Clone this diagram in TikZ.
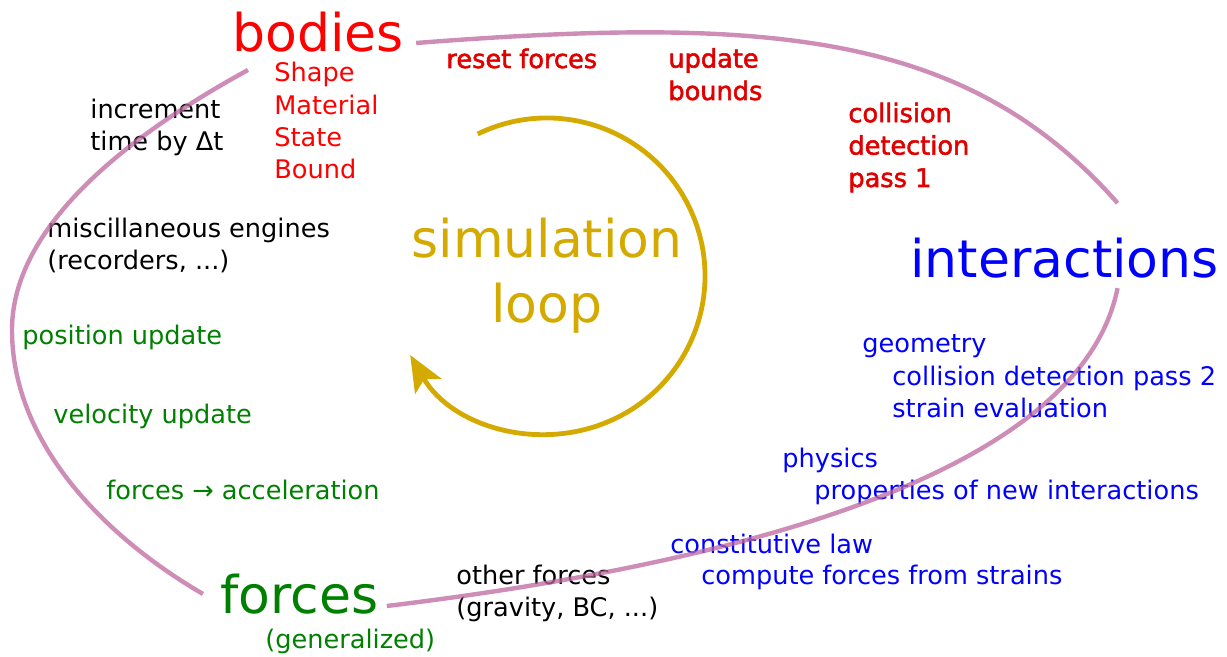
\documentclass[tikz,border=0pt]{standalone}
\usepackage{fontspec}
\setmainfont{DejaVu Sans}
\newfontfamily\heavyfont[FakeBold=2]{DejaVu Sans}
\usetikzlibrary{arrows.meta}

\definecolor{bodyred}{RGB}{255,0,0}
\definecolor{stepred}{RGB}{225,0,0}
\definecolor{interblue}{RGB}{0,0,255}
\definecolor{forcegreen}{RGB}{0,128,0}
\definecolor{loopgold}{RGB}{212,170,0}
\definecolor{ringpink}{RGB}{188,103,159}

\begin{document}
\begin{tikzpicture}[x=0.5pt, y=-0.5pt, inner sep=0pt,
    big/.style={font=\fontsize{26}{32.5}\selectfont},
    txt/.style={font=\fontsize{12.8}{16.2}\selectfont, align=left, anchor=base west},
    stp/.style={txt, font=\fontsize{12.8}{16.2}\selectfont\heavyfont, text=stepred},
    ring/.style={ringpink, opacity=.75, line width=2.2pt}]
    \useasboundingbox (0,0) rectangle (1227,657);

    %define the main groups
    \node[big, anchor=base west, text=bodyred]    (bod)   at (232,52)  {bodies};
    \node[big, anchor=base west, text=interblue]  (inter) at (910,278) {interactions};
    \node[big, anchor=base west, text=forcegreen] (frc)   at (220,613) {forces};
    \node[big, align=center, text=loopgold]       (sim)   at (547,276) {simulation\\loop};

    %define the steps of the loop (placed by their last line)
    \node[txt, text=bodyred] (props) at (274,179) {Shape\\Material\\State\\Bound};
    \node[stp] (reset) at (446,68)  {reset forces};
    \node[stp] (bnd)   at (668,100) {update\\bounds};
    \node[stp] (coll1) at (848,187) {collision\\detection\\pass 1};
    \node[txt, text=interblue] (geom)  at (862,353) {geometry};
    \node[txt, text=interblue] (coll2) at (892,418) {collision detection pass 2\\strain evaluation};
    \node[txt, text=interblue] (phys)  at (782,468) {physics};
    \node[txt, text=interblue] (newi)  at (814,500) {properties of new interactions};
    \node[txt, text=interblue] (law)   at (670,553) {constitutive law};
    \node[txt, text=interblue] (cfs)   at (701,585) {compute forces from strains};
    \node[txt] (other) at (456,617) {other forces\\(gravity, BC, ...)};
    \node[txt, text=forcegreen] (gen) at (265,648) {(generalized)};
    \node[txt, text=forcegreen] (acc) at (106,500) {forces → acceleration};
    \node[txt, text=forcegreen] (vel) at (53,424)  {velocity update};
    \node[txt, text=forcegreen] (pos) at (22,345)  {position update};
    \node[txt] (misc) at (47,270) {miscillaneous engines\\(recorders, ...)};
    \node[txt] (incr) at (90,151) {increment\\time by Δt};

    %define the cycle
    \draw[ring] ([shift={(12,-9)}]bod.base east)
        .. controls +(350,-27) and +(-152,-172.5) .. ([shift={(53,-35)}]inter.north);
    \draw[ring] ([shift={(53,9)}]inter.south)
        .. controls +(-40,200) and +(297,-36) .. ([shift={(8,-7)}]frc.base east);
    \draw[ring] ([shift={(16,18)}]bod.base west)
        .. controls +(-106,58) and +(0,-110) .. (12,330)
        .. controls +(0,110) and +(-103,-60) .. ([shift={(-17,-19)}]frc.base west);
    \draw[loopgold, line width=2.4pt, -{Stealth[length=18pt, width=15pt, inset=4pt]}]
        ([shift={(116:79pt)}]sim.center) arc[start angle=116, end angle=-150, radius=79pt];
\end{tikzpicture}
\end{document}
